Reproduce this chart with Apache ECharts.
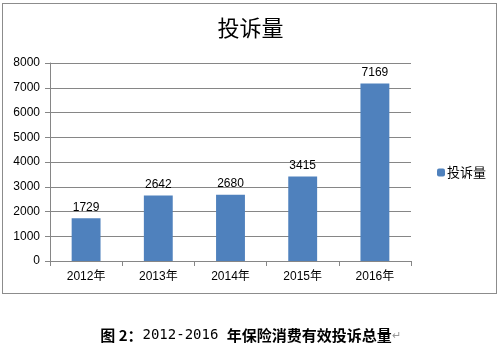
<!DOCTYPE html>
<html>
<head>
<meta charset="utf-8">
<script src="https://cdn.jsdelivr.net/npm/echarts@6/dist/echarts.min.js"></script>
<style>
html,body{margin:0;padding:0;background:#fff;}
#box{position:absolute;left:2px;top:3px;width:493px;height:289px;border:1px solid #8c8c8c;}
#chart{width:501px;height:355px;}
</style>
</head>
<body>
<div id="box"></div>
<div id="chart"></div>
<script>
// 数据
var years = ['2012年', '2013年', '2014年', '2015年', '2016年'];
var complaints = [1729, 2642, 2680, 3415, 7169];
var seriesName = '投诉量';
var yTicks = [0, 8000, 1000]; // min, max, interval

var myChart = echarts.init(document.getElementById('chart'));
var font = '"Liberation Sans","Noto Sans CJK SC",sans-serif';

var option = {
    animation: false,
    color: ['#4f81bd'],
    title: [{
        text: '投诉量',
        left: 'center',
        top: 12,
        textStyle: {fontSize: 22, fontWeight: 'normal', color: '#000', fontFamily: '"Noto Sans CJK SC",sans-serif'}
    }, {
        text: '{b|图 2：}{n|2012-2016 }{b|年保险消费有效投诉总量}{r|↵}',
        left: 'center',
        top: 323,
        textStyle: {
            fontWeight: 'normal',
            rich: {
                b: {fontSize: 15, fontWeight: 'bold', color: '#000', fontFamily: '"Noto Sans CJK SC",sans-serif'},
                n: {fontSize: 14, fontWeight: 'normal', color: '#000', fontFamily: '"DejaVu Sans Mono",monospace'},
                r: {fontSize: 11, fontWeight: 'normal', color: '#999'}
            }
        }
    }],
    legend: {
        orient: 'vertical',
        left: 432,
        top: 161,
        itemWidth: 8,
        itemHeight: 8,
        itemGap: 4,
        textStyle: {fontSize: 13, color: '#000', fontFamily: '"Noto Sans CJK SC",sans-serif', padding: [0, 0, 0, -3]},
        data: [seriesName]
    },
    grid: {left: 50, top: 63, width: 361, height: 198, containLabel: false},
    xAxis: {
        type: 'category',
        data: years,
        axisLine: {lineStyle: {color: '#868686'}},
        axisTick: {show: true, length: 5, alignWithLabel: false, lineStyle: {color: '#868686'}},
        axisLabel: {color: '#000', fontSize: 12, fontFamily: font, margin: 10}
    },
    yAxis: {
        type: 'value',
        min: yTicks[0],
        max: yTicks[1],
        interval: yTicks[2],
        axisLine: {show: true, lineStyle: {color: '#868686'}},
        axisTick: {show: true, length: 5, lineStyle: {color: '#868686'}},
        splitLine: {lineStyle: {color: '#868686'}},
        axisLabel: {color: '#000', fontSize: 12, fontFamily: font, margin: 10, formatter: function (v) { return String(v); }}
    },
    series: [{
        name: seriesName,
        type: 'bar',
        data: complaints,
        barWidth: '40%',
        label: {show: true, position: 'top', distance: 5, color: '#000', fontSize: 12, fontFamily: font}
    }]
};
myChart.setOption(option);
</script>
</body>
</html>
